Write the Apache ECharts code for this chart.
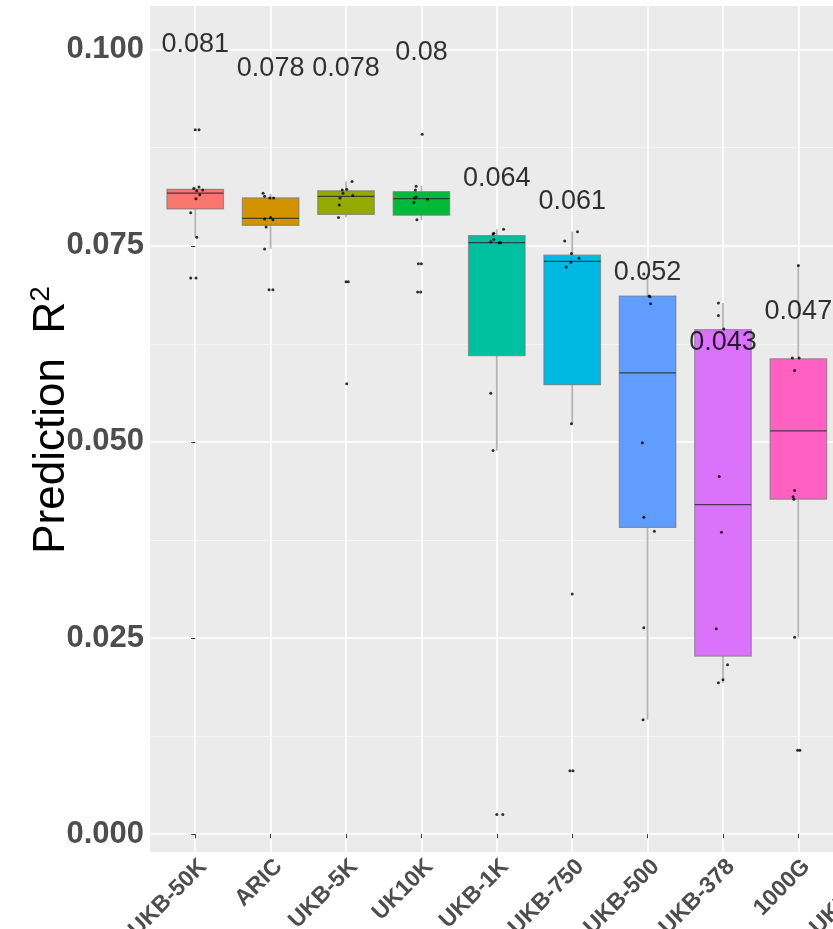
<!DOCTYPE html>
<html>
<head>
<meta charset="utf-8">
<script src="https://cdn.jsdelivr.net/npm/echarts@6/dist/echarts.min.js"></script>
<style>
  html, body { margin: 0; padding: 0; background: #ffffff; }
  #chart { width: 833px; height: 929px; }
</style>
</head>
<body>
<div id="chart"></div>
<script>
// Reference panels, in plotting order
const categories = ['UKB-50K', 'ARIC', 'UKB-5K', 'UK10K', 'UKB-1K', 'UKB-750', 'UKB-500', 'UKB-378', '1000G', 'UKB-100'];

// Box summaries of prediction R^2 per panel
const whiskerLow  = [0.0761, 0.0746, 0.0786, 0.0783, 0.0489, 0.0523, 0.0146, 0.0193, 0.0251];
const quartile1   = [0.0797, 0.0776, 0.0790, 0.0789, 0.0610, 0.0573, 0.0391, 0.0227, 0.0427];
const medians     = [0.0817, 0.0785, 0.0813, 0.0810, 0.0754, 0.0730, 0.0588, 0.0420, 0.0514];
const quartile3   = [0.0822, 0.0811, 0.0820, 0.0819, 0.0763, 0.0738, 0.0686, 0.0643, 0.0606];
const whiskerHigh = [0.0825, 0.0816, 0.0832, 0.0826, 0.0771, 0.0768, 0.0714, 0.0677, 0.0725];

// Mean R^2 printed above each box
const meanR2 = [0.081, 0.078, 0.078, 0.08, 0.064, 0.061, 0.052, 0.043, 0.047];

// Individual results: [R^2, horizontal jitter in category units]
const ptsUKB50K = [[0.0898, 0.00], [0.0898, 0.05], [0.0825, 0.05], [0.0823, -0.02], [0.0821, 0.10], [0.0820, 0.02], [0.0815, 0.06], [0.0810, 0.01], [0.0792, -0.06], [0.0761, 0.02], [0.0709, -0.06], [0.0709, 0.01]];
const ptsARIC   = [[0.0817, -0.10], [0.0813, -0.08], [0.0811, -0.01], [0.0811, 0.04], [0.0786, 0.00], [0.0784, -0.08], [0.0783, 0.03], [0.0774, -0.06], [0.0746, -0.08], [0.0694, -0.02], [0.0694, 0.03]];
const ptsUKB5K  = [[0.0832, 0.08], [0.0822, 0.01], [0.0821, -0.05], [0.0817, -0.04], [0.0814, 0.09], [0.0811, -0.08], [0.0802, -0.09], [0.0786, -0.10], [0.0704, 0.00], [0.0704, 0.03], [0.0574, 0.01]];
const ptsUK10K  = [[0.0892, 0.01], [0.0826, -0.07], [0.0821, -0.08], [0.0812, -0.07], [0.0811, -0.09], [0.0809, 0.08], [0.0805, -0.10], [0.0783, -0.06], [0.0727, -0.04], [0.0727, 0.00], [0.0691, -0.05], [0.0691, -0.01]];
const ptsUKB1K  = [[0.0771, 0.09], [0.0766, -0.04], [0.0765, -0.05], [0.0758, -0.04], [0.0755, -0.08], [0.0754, 0.03], [0.0754, 0.05], [0.0562, -0.08], [0.0489, -0.05], [0.0025, 0.00], [0.0025, 0.08]];
const ptsUKB750 = [[0.0768, 0.07], [0.0756, -0.10], [0.0740, -0.01], [0.0734, 0.09], [0.0729, -0.02], [0.0723, -0.08], [0.0523, -0.01], [0.0306, 0.00], [0.0081, -0.03], [0.0081, 0.01]];
const ptsUKB500 = [[0.0714, -0.05], [0.0686, 0.02], [0.0685, 0.03], [0.0676, 0.04], [0.0499, -0.07], [0.0404, -0.05], [0.0386, 0.09], [0.0263, -0.05], [0.0146, -0.06]];
const ptsUKB378 = [[0.0677, -0.06], [0.0661, -0.06], [0.0644, 0.01], [0.0456, -0.05], [0.0385, -0.02], [0.0262, -0.09], [0.0216, 0.06], [0.0197, 0.00], [0.0193, -0.06]];
const pts1000G  = [[0.0725, 0.00], [0.0607, -0.08], [0.0607, 0.01], [0.0591, -0.05], [0.0438, -0.05], [0.0430, -0.07], [0.0427, -0.06], [0.0251, -0.05], [0.0107, -0.01], [0.0107, 0.02]];
const pointsByPanel = [ptsUKB50K, ptsARIC, ptsUKB5K, ptsUK10K, ptsUKB1K, ptsUKB750, ptsUKB500, ptsUKB378, pts1000G];

// Axis ticks
const yMajorTicks = [0, 0.025, 0.05, 0.075, 0.1];
const yMinorTicks = [0.0125, 0.0375, 0.0625, 0.0875];

// ---- styling ----
const palette = ['#F8766D', '#D39200', '#93AA00', '#00BA38', '#00C19F', '#00B9E3', '#619CFF', '#DB72FB', '#FF61C3'];
const FONT = "'Liberation Sans', Arial, Helvetica, sans-serif";
const BOX_WIDTH = 0.75;      // in category units
const LABEL_LIFT = 0.02;     // mean labels sit this far above their value
const Y_MIN = -0.00227, Y_MAX = 0.10556;

const boxData = whiskerLow.map((lo, i) => [i, lo, quartile1[i], medians[i], quartile3[i], whiskerHigh[i]]);

const pointData = [];
pointsByPanel.forEach((pts, i) => {
  pts.forEach(([v, j]) => pointData.push([i + j, v]));
});

const labelData = meanR2.map((m, i) => ({ value: [i, m + LABEL_LIFT], text: String(m) }));

const chart = echarts.init(document.getElementById('chart'), null, { renderer: 'canvas' });

chart.setOption({
  backgroundColor: '#ffffff',
  animation: false,
  grid: {
    left: 150, top: 6, width: 769, height: 846,
    show: true, backgroundColor: '#EBEBEB', borderWidth: 0,
    containLabel: false,
    outerBoundsMode: 'none'
  },
  xAxis: {
    type: 'value',
    min: -0.6, max: 9.6,
    axisLine: { show: false },
    axisTick: { show: true, customValues: categories.map((c, i) => i), length: 4, lineStyle: { color: '#333333', width: 1 } },
    axisLabel: {
      customValues: categories.map((c, i) => i),
      formatter: v => categories[Math.round(v)],
      rotate: 45,
      align: 'right',
      verticalAlign: 'top',
      margin: 3,
      fontFamily: FONT,
      fontWeight: 'bold',
      fontSize: 23,
      color: '#4D4D4D'
    },
    splitLine: { show: true, lineStyle: { color: '#FFFFFF', width: 1.6 } }
  },
  yAxis: [
    {
      type: 'value',
      min: Y_MIN, max: Y_MAX,
      name: 'Prediction  R{sup|2}',
      nameLocation: 'middle',
      nameRotate: 90,
      nameGap: 73,
      nameMoveOverlap: false,
      nameTextStyle: {
        fontFamily: FONT, fontSize: 44, color: '#000000', lineHeight: 50,
        padding: [0, 0, 0, 18],
        rich: { sup: { fontFamily: FONT, fontSize: 28, color: '#000000', verticalAlign: 'top', lineHeight: 28 } }
      },
      axisLine: { show: false },
      axisTick: { show: true, customValues: yMajorTicks, length: 4, lineStyle: { color: '#333333', width: 1 } },
      axisLabel: {
        customValues: yMajorTicks,
        formatter: v => v.toFixed(3),
        margin: 6,
        fontFamily: FONT,
        fontWeight: 'bold',
        fontSize: 31,
        color: '#4D4D4D'
      },
      splitLine: { show: true, lineStyle: { color: '#FFFFFF', width: 1.6 } }
    },
    {
      type: 'value',
      min: Y_MIN, max: Y_MAX,
      position: 'right',
      axisLine: { show: false },
      axisTick: { show: false, customValues: yMinorTicks },
      axisLabel: { show: false, customValues: yMinorTicks },
      splitLine: { show: true, lineStyle: { color: '#F7F7F7', width: 0.8 } }
    }
  ],
  series: [
    {
      type: 'custom',
      name: 'box',
      data: boxData,
      encode: { x: 0, y: [1, 2, 3, 4, 5] },
      z: 2,
      renderItem: (params, api) => {
        const x = api.value(0);
        const lo = api.coord([x, api.value(1)]);
        const q1 = api.coord([x, api.value(2)]);
        const md = api.coord([x, api.value(3)]);
        const q3 = api.coord([x, api.value(4)]);
        const hi = api.coord([x, api.value(5)]);
        const half = api.size([BOX_WIDTH, 0])[0] / 2;
        const color = palette[params.dataIndex];
        return {
          type: 'group',
          children: [
            { type: 'line', shape: { x1: lo[0], y1: lo[1], x2: q1[0], y2: q1[1] }, style: { stroke: '#B3B3B3', lineWidth: 1.8 } },
            { type: 'line', shape: { x1: q3[0], y1: q3[1], x2: hi[0], y2: hi[1] }, style: { stroke: '#B3B3B3', lineWidth: 1.8 } },
            { type: 'rect', shape: { x: q3[0] - half, y: q3[1], width: half * 2, height: q1[1] - q3[1] }, style: { fill: color, stroke: 'rgba(120,120,120,0.7)', lineWidth: 1.2 } },
            { type: 'line', shape: { x1: md[0] - half, y1: md[1], x2: md[0] + half, y2: md[1] }, style: { stroke: 'rgba(40,40,40,0.8)', lineWidth: 1.3 } }
          ]
        };
      }
    },
    {
      type: 'scatter',
      name: 'points',
      data: pointData,
      symbol: 'circle',
      symbolSize: 3,
      itemStyle: { color: '#000000' },
      z: 3
    },
    {
      type: 'scatter',
      name: 'mean',
      data: labelData,
      symbolSize: 0,
      z: 5,
      label: {
        show: true,
        position: 'inside',
        offset: [0, 3],
        formatter: p => p.data.text,
        fontFamily: FONT,
        fontSize: 27,
        color: '#000000'
      }
    }
  ]
});
</script>
</body>
</html>
